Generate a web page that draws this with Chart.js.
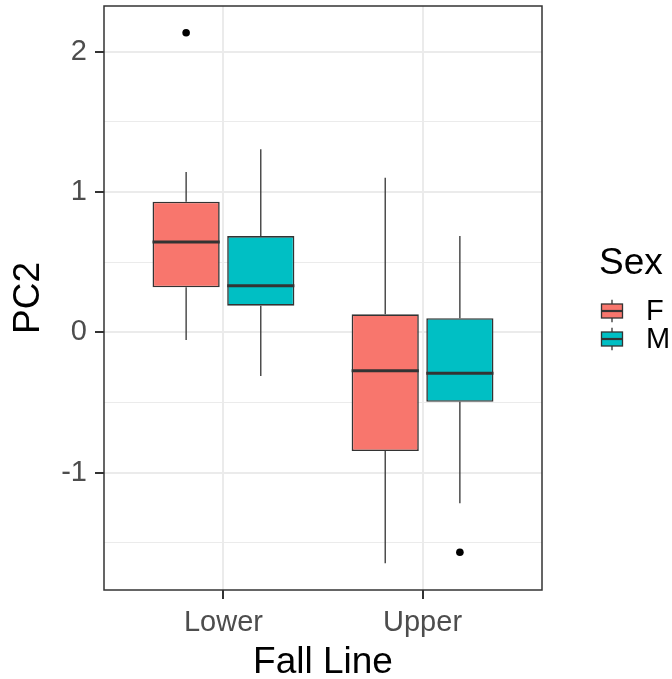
<!DOCTYPE html>
<html><head><meta charset="utf-8">
<script src="https://cdn.jsdelivr.net/npm/chart.js@4/dist/chart.umd.min.js"></script>
<style>html,body{margin:0;padding:0;background:#fff}#wrap{width:672px;height:679px}</style>
</head><body><div id="wrap"><canvas id="c" width="672" height="679"></canvas></div>
<script>
// ---- data ----
const categories = ['Lower', 'Upper'];
const groups = ['F', 'M'];
const groupColors = ['#F8766D', '#00BFC4'];

const fLow  = [-0.055, -1.647];
const fQ1   = [ 0.321, -0.846];
const fMed  = [ 0.644, -0.274];
const fQ3   = [ 0.931,  0.128];
const fHigh = [ 1.142,  1.102];

const mLow  = [-0.311, -1.219];
const mQ1   = [ 0.190, -0.495];
const mMed  = [ 0.332, -0.292];
const mQ3   = [ 0.686,  0.100];
const mHigh = [ 1.304,  0.686];

const fOutlierCat = ['Lower'];
const fOutlierVal = [2.135];
const mOutlierCat = ['Upper'];
const mOutlierVal = [-1.568];

const yTicks = [-1, 0, 1, 2];
const yMinorTicks = [-1.5, -0.5, 0.5, 1.5];
const yRange = [-1.837, 2.326];

// ---- layout constants ----
const DODGE = 0.75;           // ggplot dodge width
const FONT = '"Liberation Sans", Arial, sans-serif';
const dodgeOffset = [-DODGE / 4, DODGE / 4];

function boxData(q1, q3) {
  return categories.map((c, i) => ({ x: i + 1, y: [q1[i], q3[i]] }));
}
function outlierData(cats, vals, g) {
  return cats.map((c, i) => ({ x: categories.indexOf(c) + 1 + dodgeOffset[g], y: vals[i] }));
}

const stats = [
  { low: fLow, med: fMed, high: fHigh, q1: fQ1, q3: fQ3 },
  { low: mLow, med: mMed, high: mHigh, q1: mQ1, q3: mQ3 }
];

const boxPlugin = {
  id: 'boxExtras',
  beforeDatasetDraw(chart, args) {
    const st = stats[args.index];
    if (!st || chart.data.datasets[args.index].type !== 'bar') return;
    const ctx = chart.ctx, y = chart.scales.y;
    const meta = chart.getDatasetMeta(args.index);
    ctx.save();
    ctx.strokeStyle = '#333333';
    ctx.lineWidth = 1.3;
    meta.data.forEach((bar, i) => {
      const p = bar.getProps(['x'], true);
      ctx.beginPath();
      ctx.moveTo(p.x, y.getPixelForValue(st.high[i]));
      ctx.lineTo(p.x, y.getPixelForValue(st.q3[i]));
      ctx.moveTo(p.x, y.getPixelForValue(st.q1[i]));
      ctx.lineTo(p.x, y.getPixelForValue(st.low[i]));
      ctx.stroke();
    });
    ctx.restore();
  },
  afterDatasetDraw(chart, args) {
    const st = stats[args.index];
    if (!st || chart.data.datasets[args.index].type !== 'bar') return;
    const ctx = chart.ctx, y = chart.scales.y;
    const meta = chart.getDatasetMeta(args.index);
    ctx.save();
    ctx.strokeStyle = '#333333';
    ctx.lineWidth = 3;
    meta.data.forEach((bar, i) => {
      const p = bar.getProps(['x', 'width'], true);
      const py = y.getPixelForValue(st.med[i]);
      ctx.beginPath();
      ctx.moveTo(p.x - p.width / 2, py);
      ctx.lineTo(p.x + p.width / 2, py);
      ctx.stroke();
    });
    ctx.restore();
  },
  afterDraw(chart) {
    const ctx = chart.ctx, a = chart.chartArea;
    ctx.save();
    ctx.strokeStyle = '#333333';
    ctx.lineWidth = 1.5;
    ctx.strokeRect(a.left, a.top, a.right - a.left, a.bottom - a.top);
    // legend
    const lx = 598, ty = 264, keyTop = 297, key = 28, boxW = 21;
    ctx.fillStyle = '#000';
    ctx.font = '37px ' + FONT;
    ctx.textAlign = 'left';
    ctx.textBaseline = 'middle';
    ctx.fillText('Sex', lx + 1, ty);
    groups.forEach((g, k) => {
      const top = keyTop + k * key;
      const cx = lx + key / 2;
      ctx.strokeStyle = '#333333';
      ctx.lineWidth = 1.3;
      ctx.beginPath();
      ctx.moveTo(cx, top + key * 0.1); ctx.lineTo(cx, top + key * 0.25);
      ctx.moveTo(cx, top + key * 0.75); ctx.lineTo(cx, top + key * 0.9);
      ctx.stroke();
      ctx.fillStyle = groupColors[k];
      ctx.fillRect(cx - boxW / 2, top + key * 0.25, boxW, key * 0.5);
      ctx.strokeRect(cx - boxW / 2, top + key * 0.25, boxW, key * 0.5);
      ctx.lineWidth = 2.2;
      ctx.beginPath();
      ctx.moveTo(cx - boxW / 2, top + key / 2); ctx.lineTo(cx + boxW / 2, top + key / 2);
      ctx.stroke();
      ctx.fillStyle = '#000';
      ctx.font = '29px ' + FONT;
      ctx.fillText(g, 646, top + key / 2 + 1);
    });
    ctx.restore();
  }
};

const datasets = [
  { type: 'bar', label: groups[0], data: boxData(fQ1, fQ3), backgroundColor: groupColors[0],
    borderColor: '#333333', borderWidth: 1.6, borderSkipped: false,
    categoryPercentage: DODGE, barPercentage: 0.9, order: 2 },
  { type: 'bar', label: groups[1], data: boxData(mQ1, mQ3), backgroundColor: groupColors[1],
    borderColor: '#333333', borderWidth: 1.6, borderSkipped: false,
    categoryPercentage: DODGE, barPercentage: 0.9, order: 2 },
  { type: 'scatter', label: 'F outliers', data: outlierData(fOutlierCat, fOutlierVal, 0),
    pointRadius: 3.8, backgroundColor: '#000', borderWidth: 0, order: 1 },
  { type: 'scatter', label: 'M outliers', data: outlierData(mOutlierCat, mOutlierVal, 1),
    pointRadius: 3.8, backgroundColor: '#000', borderWidth: 0, order: 1 }
];

new Chart(document.getElementById('c'), {
  type: 'bar',
  data: { datasets },
  plugins: [boxPlugin],
  options: {
    responsive: false,
    devicePixelRatio: 1,
    animation: false,
    layout: { padding: { top: 6, right: 130, left: 0, bottom: 0 } },
    plugins: { legend: { display: false }, tooltip: { enabled: false } },
    scales: {
      x: {
        type: 'linear', min: 0.4, max: 2.6, offset: false,
        afterBuildTicks: s => { s.ticks = categories.map((c, i) => ({ value: i + 1 })); },
        afterFit: s => { s.height = 89; s.paddingLeft = 0; s.paddingRight = 0; },
        ticks: { callback: v => categories[v - 1], font: { family: FONT, size: 29 }, color: '#4D4D4D', padding: 7, maxRotation: 0, autoSkip: false },
        grid: { offset: false, color: '#EBEBEB', lineWidth: 2, tickLength: 9, tickColor: '#333333', tickWidth: 2 },
        border: { display: false },
        title: { display: true, text: 'Fall Line', font: { family: FONT, size: 37, lineHeight: 1 }, color: '#000', padding: { bottom: -2 } }
      },
      y: {
        type: 'linear', min: yRange[0], max: yRange[1],
        afterBuildTicks: s => { s.ticks = yMinorTicks.concat(yTicks).sort((a, b) => a - b).map(v => ({ value: v })); },
        afterFit: s => { s.width = 104; s.paddingTop = 0; s.paddingBottom = 0; },
        ticks: { callback: v => yTicks.includes(v) ? String(v) : '', font: { family: FONT, size: 29 }, color: '#4D4D4D', padding: 8, autoSkip: false },
        grid: {
          color: '#EBEBEB',
          lineWidth: c => yTicks.includes(c.tick.value) ? 2 : 1,
          tickLength: 9,
          tickColor: c => yTicks.includes(c.tick.value) ? '#333333' : 'rgba(0,0,0,0)',
          tickWidth: 2
        },
        border: { display: false },
        title: { display: true, text: 'PC2', font: { family: FONT, size: 37, lineHeight: 1 }, color: '#000', padding: { top: 10 } }
      }
    }
  }
});
</script></body></html>
